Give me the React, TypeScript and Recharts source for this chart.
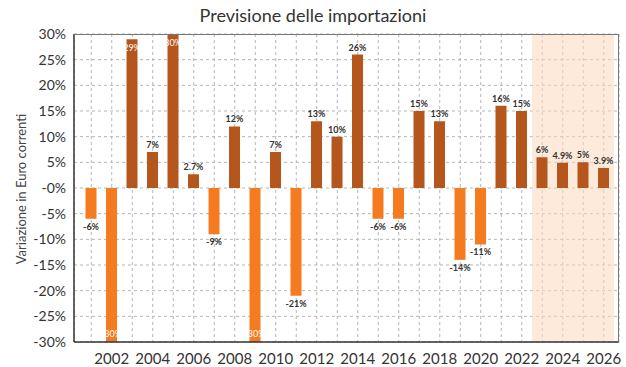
import { Bar, BarChart, CartesianGrid, Cell, LabelList, ReferenceArea, XAxis, YAxis } from "recharts";

const YEARS = [
  2001, 2002, 2003, 2004, 2005, 2006, 2007, 2008, 2009, 2010, 2011, 2012, 2013,
  2014, 2015, 2016, 2017, 2018, 2019, 2020, 2021, 2022, 2023, 2024, 2025, 2026,
];
const CHANGE = [
  -6, -30, 29, 7, 30, 2.7, -9, 12, -30, 7, -21, 13, 10, 26, -6, -6, 15, 13, -14,
  -11, 16, 15, 6, 4.9, 5, 3.9,
];
const Y_TICKS = [-30, -25, -20, -15, -10, -5, 0, 5, 10, 15, 20, 25, 30];
const FORECAST_START = 2023;

const POS = "#b5561d";
const NEG = "#f47b20";
const FONT = "Lato, 'Noto Sans', sans-serif";

const data = YEARS.map((year, i) => ({ year, value: CHANGE[i] }));

const fmtPct = (v: number) => (v === 0 ? "-0%" : `${v}%`);

function YearTick(props: any) {
  const { x, y, payload } = props;
  if (payload.value % 2 !== 0) return null;
  return (
    <text x={x} y={y + 14} textAnchor="middle" fontSize={15} fill="#333" fontFamily={FONT}>
      {payload.value}
    </text>
  );
}

function ValueLabel(props: any) {
  const { x, y, width, height, value } = props;
  const cx = x + width / 2;
  const top = Math.min(y, y + height);
  const bottom = Math.max(y, y + height);
  const text = `${value}%`;
  if (Math.abs(value) >= 29) {
    // clipped bars: label sits inside the bar end
    const ty = value > 0 ? top + 12 : bottom - 5;
    return (
      <text x={cx} y={ty} textAnchor="middle" fontSize={9} fill="#fff" fontFamily={FONT}>
        {text}
      </text>
    );
  }
  const ty = value >= 0 ? top - 4 : bottom + 11;
  return (
    <text x={cx} y={ty} textAnchor="middle" fontSize={9} fontWeight={700} fill="#333" fontFamily={FONT}>
      {text}
    </text>
  );
}

export default function App() {
  return (
    <div style={{ position: "relative", width: 626, height: 367, background: "#fff", fontFamily: FONT }}>
      <style>{`body{margin:0}`}</style>
      <div
        style={{
          position: "absolute",
          top: 4,
          left: 0,
          width: 626,
          textAlign: "center",
          fontSize: 18,
          color: "#333",
        }}
      >
        Previsione delle importazioni
      </div>
      <div
        style={{
          position: "absolute",
          left: 21,
          top: 189,
          transform: "translate(-50%, -50%) rotate(-90deg)",
          whiteSpace: "nowrap",
          fontSize: 13,
          color: "#444",
        }}
      >
        Variazione in Euro correnti
      </div>
      <BarChart
        width={626}
        height={367}
        data={data}
        margin={{ top: 34, right: 7, bottom: 0, left: 0 }}
        barCategoryGap="22%"
      >
        <ReferenceArea x1={FORECAST_START} fill="#fbd9bd" fillOpacity={0.55} stroke="none" ifOverflow="extendDomain" />
        <CartesianGrid stroke="#b5b5b5" strokeDasharray="3 3" />
        <XAxis
          dataKey="year"
          interval={0}
          height={25}
          padding={{ left: 7, right: 5 }}
          tick={<YearTick />}
          tickLine={false}
          axisLine={{ stroke: "#333", strokeWidth: 1.5 }}
        />
        <YAxis
          domain={[-30, 30]}
          ticks={Y_TICKS}
          width={74}
          allowDataOverflow
          tickFormatter={fmtPct}
          tickLine={false}
          axisLine={{ stroke: "#333", strokeWidth: 1.5 }}
          tick={{ fontSize: 14, fill: "#333", fontFamily: FONT }}
        />
        <Bar dataKey="value" isAnimationActive={false}>
          {data.map((d) => (
            <Cell key={d.year} fill={d.value >= 0 ? POS : NEG} />
          ))}
          <LabelList dataKey="value" content={<ValueLabel />} />
        </Bar>
      </BarChart>
      <div
        style={{
          position: "absolute",
          left: 74,
          top: 34,
          width: 545,
          height: 308,
          borderTop: "1px solid #777",
          borderRight: "1px solid #777",
          boxSizing: "border-box",
          pointerEvents: "none",
        }}
      />
    </div>
  );
}
